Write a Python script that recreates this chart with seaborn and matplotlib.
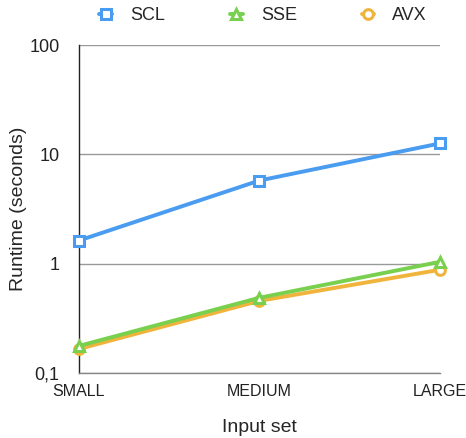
import numpy as np
import pandas as pd
import matplotlib.pyplot as plt
import matplotlib.ticker as mticker
import seaborn as sns

# ================= DATA =================

INPUT_SETS = ["SMALL", "MEDIUM", "LARGE"]
SCL = [1.63, 5.77, 12.6]
SSE = [0.177, 0.488, 1.04]
AVX = [0.166, 0.457, 0.88]

SERIES = ["SCL", "SSE", "AVX"]
COLORS = {"SCL": "#4a9cf0", "SSE": "#78d04e", "AVX": "#f0b43c"}
MARKERS = {"SCL": "s", "SSE": "^", "AVX": "o"}

df = pd.DataFrame({
    "Input set": INPUT_SETS * 3,
    "pos": list(range(len(INPUT_SETS))) * 3,
    "Runtime": SCL + SSE + AVX,
    "Version": ["SCL"] * 3 + ["SSE"] * 3 + ["AVX"] * 3,
})

# ================= PLOT =================

sns.set_style("white")
plt.rcParams["font.family"] = ["Liberation Sans", "DejaVu Sans"]

fig = plt.figure(figsize=(4.66, 4.38), dpi=100)
ax = fig.add_axes([0.1695, 0.1484, 0.7745, 0.7486])

# draw AVX first so SSE sits on top like the original
for name in ["AVX", "SSE", "SCL"]:
    sub = df[df["Version"] == name]
    sns.lineplot(
        data=sub, x="pos", y="Runtime", ax=ax,
        color=COLORS[name], marker=MARKERS[name],
        markersize=7, markerfacecolor="white",
        markeredgecolor=COLORS[name], markeredgewidth=2.2,
        linewidth=2.8, label=name, clip_on=False, zorder=3,
    )

ax.set_yscale("log")
ax.set_ylim(0.1, 100)
ax.set_xlim(0, 2)
ax.set_xticks(range(len(INPUT_SETS)))
ax.set_xticklabels(INPUT_SETS)
ax.yaxis.set_major_locator(mticker.FixedLocator([0.1, 1, 10, 100]))
ax.yaxis.set_major_formatter(mticker.FixedFormatter(["0,1", "1", "10", "100"]))
ax.yaxis.set_minor_locator(mticker.NullLocator())
ax.tick_params(axis="both", length=0, colors="#222222")
ax.tick_params(axis="x", pad=8, labelsize=11.5)
ax.tick_params(axis="y", pad=14, labelsize=13)

ax.yaxis.grid(True, color="#999999", linewidth=1)
ax.xaxis.grid(False)
for side in ["top", "right"]:
    ax.spines[side].set_visible(False)
for side in ["left", "bottom"]:
    ax.spines[side].set_color("#222222")
    ax.spines[side].set_linewidth(1)
ax.spines["bottom"].set_color("#888888")

ax.set_xlabel("Input set", fontsize=14, labelpad=14)
ax.set_ylabel("Runtime (seconds)", fontsize=14, labelpad=2)

handles, labels = ax.get_legend_handles_labels()
order = [labels.index(s) for s in SERIES]
ax.get_legend().remove()
fig.legend(
    [handles[i] for i in order], [labels[i] for i in order],
    loc="upper center", bbox_to_anchor=(0.565, 1.02), ncol=3,
    frameon=False, fontsize=13, handlelength=0.7, columnspacing=3.6,
    handletextpad=1.0,
)

fig.savefig("out.png", dpi=100)
